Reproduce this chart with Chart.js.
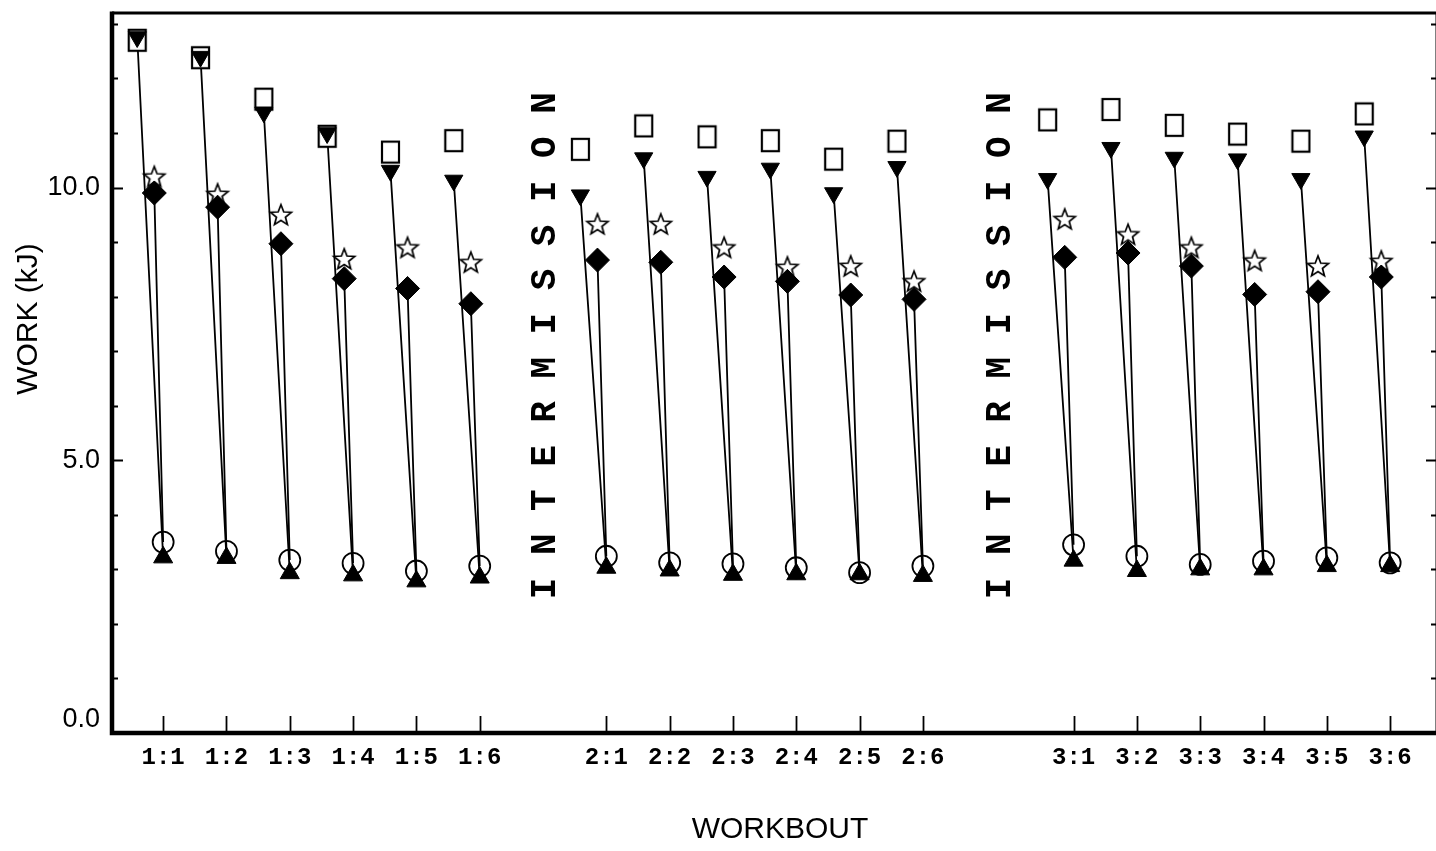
<!DOCTYPE html>
<html>
<head>
<meta charset="utf-8">
<script src="https://cdn.jsdelivr.net/npm/chart.js@4.4.1/dist/chart.umd.min.js"></script>
<style>
  html, body { margin: 0; padding: 0; background: #fff; overflow: hidden; }
  #wrap { position: relative; width: 1450px; height: 851px; }
</style>
</head>
<body>
<div id="wrap"><canvas id="c"></canvas></div>
<script>
// Workbout labels and their positions along the x axis (gaps mark the intermissions)
const workbouts = ['1:1','1:2','1:3','1:4','1:5','1:6',
                   '2:1','2:2','2:3','2:4','2:5','2:6',
                   '3:1','3:2','3:3','3:4','3:5','3:6'];
const boutPositions = [1, 2, 3, 4, 5, 6,
                       8, 9, 10, 11, 12, 13,
                       15.38, 16.38, 17.38, 18.38, 19.38, 20.38];

// Work (kJ) per workbout, one array per marker series
const openSquare   = [12.70, 12.38, 11.62, 10.94, 10.65, 10.86,
                      10.70, 11.13, 10.93, 10.86, 10.52, 10.85,
                      11.24, 11.43, 11.14, 10.98, 10.85, 11.35];
const filledDown   = [12.76, 12.40, 11.38, 11.00, 10.31, 10.13,
                      9.86, 10.54, 10.20, 10.35, 9.90, 10.38,
                      10.16, 10.73, 10.55, 10.52, 10.16, 10.94];
const openStar     = [10.20, 9.88, 9.50, 8.69, 8.90, 8.63,
                      9.33, 9.33, 8.90, 8.54, 8.56, 8.28,
                      9.42, 9.14, 8.90, 8.66, 8.56, 8.65];
const filledDiamond= [9.90, 9.64, 8.97, 8.33, 8.15, 7.87,
                      8.67, 8.63, 8.36, 8.28, 8.03, 7.95,
                      8.72, 8.80, 8.56, 8.04, 8.09, 8.36];
const openCircle   = [3.50, 3.33, 3.17, 3.11, 2.97, 3.06,
                      3.24, 3.12, 3.10, 3.03, 2.94, 3.06,
                      3.45, 3.24, 3.09, 3.15, 3.21, 3.12];
const filledUp     = [3.22, 3.21, 2.93, 2.89, 2.78, 2.85,
                      3.03, 2.98, 2.90, 2.91, 2.91, 2.88,
                      3.16, 2.97, 3.00, 3.00, 3.06, 3.06];

// Y axis labelled values
const yLabelled = [0, 5, 10];

// Horizontal offsets of the marker columns within one workbout
const OFF_FIRST = -0.41;
const OFF_MID = -0.14;

function squareMarker() {
  const c = document.createElement('canvas');
  c.width = 21; c.height = 25;
  const g = c.getContext('2d');
  g.fillStyle = '#fff'; g.strokeStyle = '#000'; g.lineWidth = 2.2;
  g.fillRect(2, 2, 17, 21);
  g.strokeRect(2, 2, 17, 21);
  return c;
}

function starMarker() {
  const c = document.createElement('canvas');
  c.width = 28; c.height = 28;
  const g = c.getContext('2d');
  g.beginPath();
  for (let i = 0; i < 10; i++) {
    const r = i % 2 ? 4.7 : 11;
    const a = -Math.PI / 2 + i * Math.PI / 5;
    g.lineTo(14 + r * Math.cos(a), 14.8 + r * Math.sin(a));
  }
  g.closePath();
  g.fillStyle = '#fff'; g.fill();
  g.lineWidth = 1.7; g.strokeStyle = '#000'; g.lineJoin = 'miter'; g.stroke();
  return c;
}

const points = (vals, off) => vals.map((v, i) => ({ x: boutPositions[i] + off, y: v }));
const segments = (fromVals, fromOff, toVals, toOff) => {
  const d = [];
  fromVals.forEach((v, i) => {
    d.push({ x: boutPositions[i] + fromOff, y: v },
           { x: boutPositions[i] + toOff, y: toVals[i] },
           { x: boutPositions[i] + toOff, y: null });
  });
  return d;
};

const lineStyle = {
  showLine: true, pointRadius: 0, borderColor: '#000', borderWidth: 1.8,
  spanGaps: false, order: 10
};

const decorations = {
  id: 'decorations',
  afterDraw(chart) {
    const { ctx, chartArea: a, scales: { x, y } } = chart;
    ctx.save();
    ctx.strokeStyle = '#000';
    ctx.fillStyle = '#000';

    // plot frame
    ctx.lineWidth = 4.5;
    ctx.beginPath();
    ctx.moveTo(a.left, a.top - 1.5);
    ctx.lineTo(a.left, a.bottom);
    ctx.lineTo(a.right, a.bottom);
    ctx.stroke();
    ctx.lineWidth = 3;
    ctx.beginPath();
    ctx.moveTo(a.left, a.top);
    ctx.lineTo(a.right, a.top);
    ctx.lineTo(a.right, a.bottom);
    ctx.stroke();

    // inward tick marks on both vertical sides
    ctx.lineWidth = 2;
    for (let v = 1; v <= 13; v++) {
      const py = Math.round(y.getPixelForValue(v)) + 0.5;
      const len = v % 5 === 0 ? 11 : 6;
      ctx.beginPath();
      ctx.moveTo(a.left, py); ctx.lineTo(a.left + len, py);
      ctx.moveTo(a.right, py); ctx.lineTo(a.right - len, py);
      ctx.stroke();
    }

    // upward tick marks at each workbout
    ctx.lineWidth = 1.8;
    boutPositions.forEach(p => {
      const px = Math.round(x.getPixelForValue(p)) + 0.5;
      ctx.beginPath();
      ctx.moveTo(px, a.bottom);
      ctx.lineTo(px, a.bottom - 17);
      ctx.stroke();
    });

    // INTERMISSION columns between the workbout groups
    const word = 'INTERMISSION';
    const fs = 36;
    ctx.font = 'bold ' + fs + 'px "Liberation Mono", monospace';
    ctx.textAlign = 'center';
    ctx.textBaseline = 'alphabetic';
    const capH = fs * 0.66;
    [[5, 6], [11, 12]].forEach(([i0, i1]) => {
      const cx = x.getPixelForValue((boutPositions[i0] + boutPositions[i1]) / 2);
      const yBottom = y.getPixelForValue(2.65);
      const yTop = y.getPixelForValue(11.55);
      const step = (yBottom - yTop) / (word.length - 1);
      for (let k = 0; k < word.length; k++) {
        ctx.save();
        ctx.translate(cx, yBottom - k * step);
        ctx.rotate(-Math.PI / 2);
        ctx.fillText(word[k], 0, capH / 2);
        ctx.restore();
      }
    });

    // axis titles
    ctx.font = '30px "Liberation Sans", Arial, sans-serif';
    ctx.textAlign = 'center';
    ctx.textBaseline = 'middle';
    ctx.save();
    ctx.translate(29, 319);
    ctx.rotate(-Math.PI / 2);
    ctx.fillText('WORK (kJ)', 0, 0);
    ctx.restore();
    ctx.fillText('WORKBOUT', 780, 830);

    ctx.restore();
  }
};

new Chart(document.getElementById('c'), {
  type: 'scatter',
  data: {
    datasets: [
      Object.assign({ data: segments(filledDown, OFF_FIRST, filledUp, 0) }, lineStyle),
      Object.assign({ data: segments(filledDiamond, OFF_MID, openCircle, 0) }, lineStyle),
      { data: points(openSquare, OFF_FIRST), pointStyle: squareMarker(), pointRadius: 10, order: 8 },
      { data: points(openStar, OFF_MID), pointStyle: starMarker(), pointRadius: 10, order: 7 },
      { data: points(openCircle, 0), pointStyle: 'circle', pointRadius: 10.5,
        backgroundColor: 'rgba(0,0,0,0)', borderColor: '#000', borderWidth: 1.8, order: 6 },
      { data: points(filledDown, OFF_FIRST), pointStyle: 'triangle', rotation: 180, pointRadius: 10.5,
        backgroundColor: '#000', borderColor: '#000', borderWidth: 1, order: 3 },
      { data: points(filledDiamond, OFF_MID), pointStyle: 'rectRot', pointRadius: 12,
        backgroundColor: '#000', borderColor: '#000', borderWidth: 1, order: 3 },
      { data: points(filledUp, 0), pointStyle: 'triangle', pointRadius: 11,
        backgroundColor: '#000', borderColor: '#000', borderWidth: 1, order: 2 }
    ]
  },
  options: {
    responsive: true,
    maintainAspectRatio: false,
    animation: false,
    events: [],
    layout: { padding: { top: 7, right: 9, left: 0, bottom: 0 } },
    plugins: { legend: { display: false }, tooltip: { enabled: false } },
    scales: {
      x: {
        type: 'linear',
        min: 0.192,
        max: 21.12,
        grid: { display: false, drawTicks: false },
        border: { display: false },
        afterBuildTicks: axis => { axis.ticks = boutPositions.map(v => ({ value: v })); },
        afterFit: axis => { axis.height = 118; axis.paddingLeft = 0; axis.paddingRight = 0; },
        ticks: {
          autoSkip: false, maxRotation: 0, minRotation: 0, padding: 11, color: '#000',
          font: { family: '"Liberation Mono", monospace', size: 24, weight: 'bold' },
          callback: (v, i) => workbouts[i]
        }
      },
      y: {
        type: 'linear',
        min: 0,
        max: 13.2,
        grid: { display: false, drawTicks: false },
        border: { display: false },
        afterBuildTicks: axis => { axis.ticks = yLabelled.map(v => ({ value: v })); },
        afterFit: axis => { axis.width = 112; axis.paddingTop = 0; axis.paddingBottom = 0; },
        ticks: {
          padding: 12, color: '#000',
          font: { family: '"Liberation Sans", Arial, sans-serif', size: 27, lineHeight: 1 },
          callback: v => v === 0 ? ['0.0', ''] : v.toFixed(1)
        }
      }
    }
  },
  plugins: [decorations]
});
</script>
</body>
</html>
